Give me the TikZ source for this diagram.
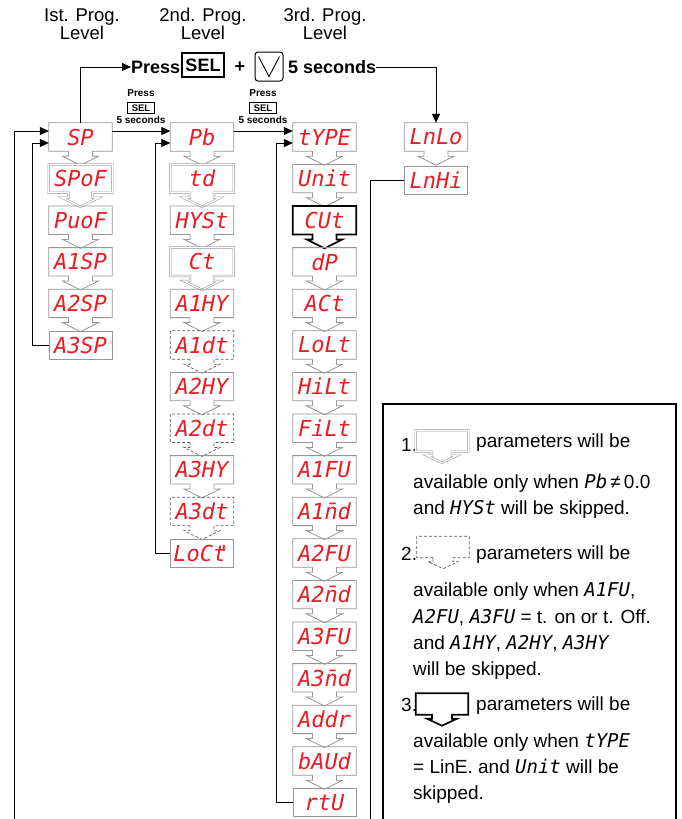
\documentclass[tikz,border=0pt]{standalone}
\usepackage{fontspec}
\setmainfont{Liberation Sans}
\newfontfamily\segfont{DejaVu Sans Mono}
\usetikzlibrary{arrows.meta,calc}
\definecolor{segred}{RGB}{232,30,37}
\definecolor{boxgray}{RGB}{150,150,150}
\tikzset{
  seg/.style={minimum width=63pt, minimum height=28pt, inner sep=0pt,
    font=\fontsize{22}{22}\segfont\itshape, text=segred},
  plainb/.style={draw=boxgray, line width=0.8pt},
  doubleb/.style={draw=boxgray, line width=0.5pt, double=white, double distance=1.3pt},
  dashb/.style={draw=black!65, line width=0.7pt, dash pattern=on 3pt off 2pt},
  boldb/.style={draw=black, line width=1.7pt},
  conn/.style={draw=black, line width=0.8pt},
  arr/.style={conn, -{Triangle[length=9pt,width=8pt]}},
  hdr/.style={align=center, inner sep=0pt, font=\fontsize{18.5}{18.5}\selectfont},
  bigt/.style={inner sep=0pt, font=\fontsize{18}{18}\selectfont\bfseries},
  smallt/.style={inner sep=0pt, font=\fontsize{10}{10}\selectfont\bfseries},
  smallsel/.style={draw, line width=1pt, inner sep=1pt, minimum width=27pt, minimum height=11pt, font=\fontsize{9.5}{9.5}\selectfont\bfseries},
  legtext/.style={anchor=base west, inner sep=0pt, font=\fontsize{19}{19}\selectfont},
  icon/.style={minimum width=52pt, minimum height=21pt, inner sep=0pt},
}
\newcommand\segtxt[1]{{\segfont\itshape #1}}
\newcommand\segm{\accent"00AF n}
\newcommand\boxarrow[2]{%
  \draw[#2] ($(#1.south)+(-12,0)$) -- (#1.south west) -- (#1.north west) -- (#1.north east)
    -- (#1.south east) -- ($(#1.south)+(12,0)$) -- ++(0,5) -- ++(6,0)
    -- ($(#1.south)+(0,14)$) -- ($(#1.south)+(-18,5)$) -- ++(6,0) -- cycle;}
\newcommand\boxarrowS[2]{%
  \draw[#2] ($(#1.south)+(-10,0)$) -- (#1.south west) -- (#1.north west) -- (#1.north east)
    -- (#1.south east) -- ($(#1.south)+(10,0)$) -- ++(0,4) -- ++(5,0)
    -- ($(#1.south)+(0,11)$) -- ($(#1.south)+(-15,4)$) -- ++(5,0) -- cycle;}
\newcommand\pbox[5]{\node[seg] (#1) at (#2,{137+41.6*#3}) {#4}; \boxarrow{#1}{#5}}
\newcommand\lbox[5]{\node[seg,#5] (#1) at (#2,{137+41.6*#3}) {#4};}
\begin{document}
\begin{tikzpicture}[x=1pt,y=-1pt]
\clip (0,0) rectangle (681,819);
\fill[white] (0,0) rectangle (681,819);

% headers
\node[hdr] (h1) at (82,24) {Ist. Prog.\\Level};
\node[hdr] (h2) at (203,24) {2nd. Prog.\\Level};
\node[hdr] (h3) at (325,24) {3rd. Prog.\\Level};

% top line
\node[bigt, anchor=west] (press) at (131,67) {Press};
\node[bigt, draw, line width=1.5pt, inner sep=2pt, minimum width=42pt, minimum height=24pt] (sel) at (203,65) {SEL};
\node[bigt] (plus) at (240,67) {+};
\node[draw, line width=1pt, rounded corners=3pt, minimum width=28pt, minimum height=29pt, inner sep=0pt] (vkey) at (269,66.5) {};
\draw[line width=0.9pt] ($(vkey.north west)+(4,5)$) -- ($(vkey.south)+(0,-5)$) -- ($(vkey.north east)+(-4,5)$);
\node[bigt, anchor=west] (five) at (288,67) {5 seconds};

% small labels
\node[smallt] (pa) at (141,93) {Press};
\node[smallsel] (sa) at (141,108) {SEL};
\node[smallt] (fa) at (141,120) {5 seconds};
\node[smallt] (pb) at (263,93) {Press};
\node[smallsel] (sb) at (263,108) {SEL};
\node[smallt] (fb) at (263,120) {5 seconds};

% column 1
\pbox{SP}{80.5}{0}{SP}{plainb}
\pbox{SPoF}{80.5}{1}{SPoF}{doubleb}
\pbox{PuoF}{80.5}{2}{PuoF}{plainb}
\pbox{AoSP}{80.5}{3}{A1SP}{plainb}
\pbox{AtSP}{80.5}{4}{A2SP}{plainb}
\lbox{AhSP}{80.5}{5}{A3SP}{plainb}

% column 2
\pbox{Pb}{202}{0}{Pb}{plainb}
\pbox{td}{202}{1}{td}{doubleb}
\pbox{HYSt}{202}{2}{HYSt}{plainb}
\pbox{Ct}{202}{3}{Ct}{doubleb}
\pbox{AoHY}{202}{4}{A1HY}{plainb}
\pbox{Aodt}{202}{5}{A1dt}{dashb}
\pbox{AtHY}{202}{6}{A2HY}{plainb}
\pbox{Atdt}{202}{7}{A2dt}{dashb}
\pbox{AhHY}{202}{8}{A3HY}{plainb}
\pbox{Ahdt}{202}{9}{A3dt}{dashb}
\lbox{LoCt}{202}{10}{LoCt\kern-0.4em'}{plainb}

% column 3
\pbox{tYPE}{324.5}{0}{tYPE}{plainb}
\pbox{Unit}{324.5}{1}{Unit}{plainb}
\pbox{CUt}{324.5}{2}{CUt}{boldb}
\pbox{dP}{324.5}{3}{dP}{plainb}
\pbox{ACt}{324.5}{4}{ACt}{plainb}
\pbox{LoLt}{324.5}{5}{LoLt}{plainb}
\pbox{HiLt}{324.5}{6}{HiLt}{plainb}
\pbox{FiLt}{324.5}{7}{FiLt}{plainb}
\pbox{AoFU}{324.5}{8}{A1FU}{plainb}
\pbox{Aond}{324.5}{9}{A1\segm d}{plainb}
\pbox{AtFU}{324.5}{10}{A2FU}{plainb}
\pbox{Atnd}{324.5}{11}{A2\segm d}{plainb}
\pbox{AhFU}{324.5}{12}{A3FU}{plainb}
\pbox{Ahnd}{324.5}{13}{A3\segm d}{plainb}
\pbox{Addr}{324.5}{14}{Addr}{plainb}
\pbox{bAUd}{324.5}{15}{bAUd}{plainb}
\lbox{rtU}{324.5}{16}{rtU}{plainb}

% column 4
\node[seg] (LnLo) at (436,137) {LnLo}; \boxarrow{LnLo}{plainb}
\node[seg,plainb] (LnHi) at (436,180) {LnHi};

% connectors
\coordinate (botL) at (14,830);
\coordinate (botR) at (370,830);
\draw[arr] (SP.north) |- (press.west);
\draw[arr] (five.east) -| (LnLo.north);
\draw[arr] ($(SP.east)+(0,-6)$) -- ($(Pb.west)+(0,-6)$);
\draw[arr] ($(Pb.east)+(0,-6)$) -- ($(tYPE.west)+(0,-6)$);
\draw[arr] (botL) |- ($(SP.west)+(0,-6)$);
\draw[arr] (AhSP.west) -- ++(-16,0) |- ($(SP.west)+(0,6)$);
\draw[arr] (LoCt.west) -- ++(-15,0) |- ($(Pb.west)+(0,6)$);
\draw[arr] (rtU.west) -- ++(-16,0) |- ($(tYPE.west)+(0,6)$);
\draw[conn] (LnHi.west) -| (botR);

% legend
\node[draw, line width=1.6pt, anchor=north west, minimum width=293pt, minimum height=440pt, inner sep=0pt] (legend) at (382,403) {};
\node[legtext] (n1) at (401,451) {1.};
\node[icon] (i1) at (442,441) {}; \boxarrowS{i1}{doubleb}
\node[legtext] (t1a) at (476,447) {parameters will be};
\node[legtext] (t1b) at (413,488) {available only when \segtxt{Pb}\,≠\,0.0};
\node[legtext] (t1c) at (413,514) {and \segtxt{HYSt} will be skipped.};

\node[legtext] (n2) at (401,560) {2.};
\node[icon] (i2) at (443,547) {}; \boxarrowS{i2}{dashb}
\node[legtext] (t2a) at (476,559) {parameters will be};
\node[legtext] (t2b) at (413,596) {available only when \segtxt{A1FU},};
\node[legtext] (t2c) at (413,623) {\segtxt{A2FU}, \segtxt{A3FU} = t. on or t. Off.};
\node[legtext] (t2d) at (413,649) {and \segtxt{A1HY}, \segtxt{A2HY}, \segtxt{A3HY}};
\node[legtext] (t2e) at (413,675) {will be skipped.};

\node[legtext] (n3) at (401,711) {3.};
\node[icon] (i3) at (442,704) {}; \boxarrowS{i3}{boldb}
\node[legtext] (t3a) at (476,710) {parameters will be};
\node[legtext] (t3b) at (413,747) {available only when \segtxt{tYPE}};
\node[legtext] (t3c) at (413,773) {= LinE. and \segtxt{Unit} will be};
\node[legtext] (t3d) at (413,799) {skipped.};
\end{tikzpicture}
\end{document}
